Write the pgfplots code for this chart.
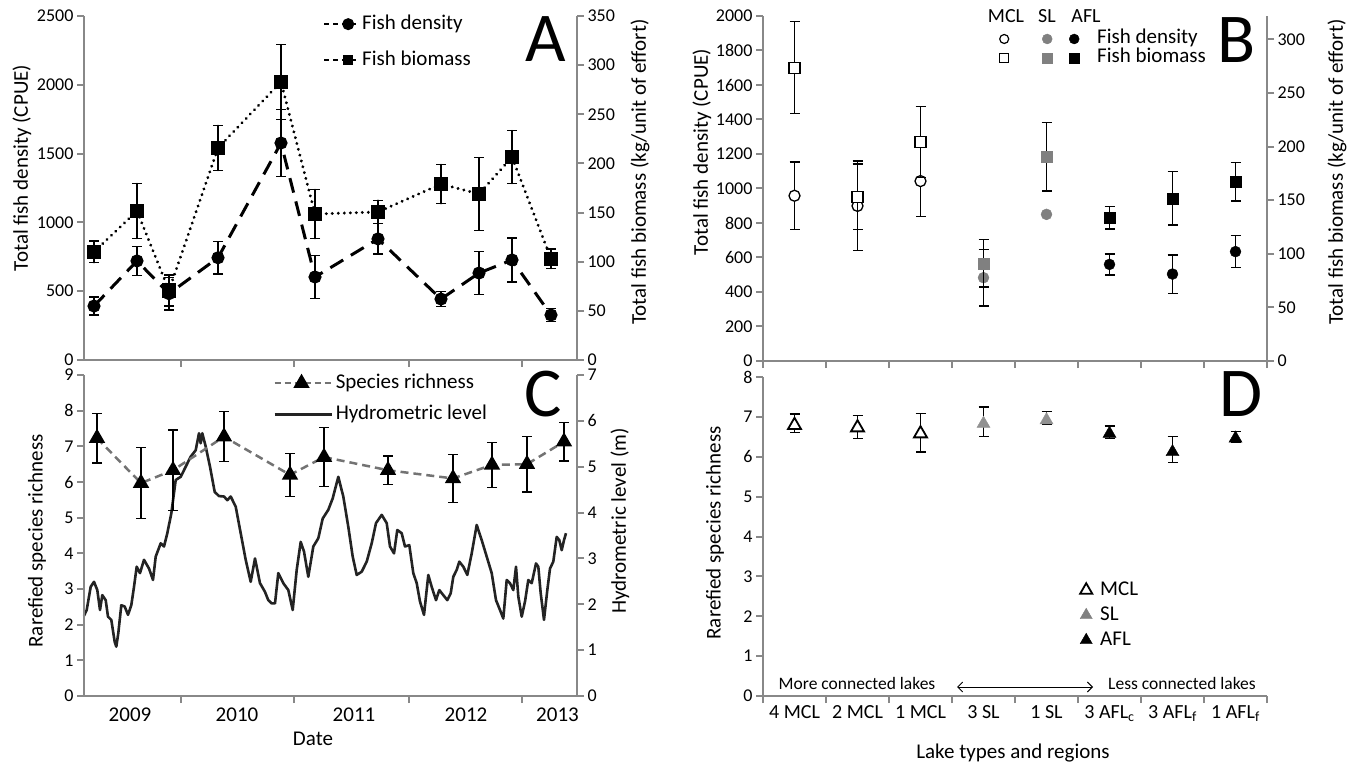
\documentclass[border=0pt]{standalone}
\usepackage{pgfplots}
\pgfplotsset{compat=1.18}
\usepackage{fontspec}
\setmainfont{Carlito}
\usetikzlibrary{arrows.meta}
\definecolor{axgray}{RGB}{136,136,136}
\definecolor{slgray}{RGB}{128,128,128}
\definecolor{dslgray}{RGB}{145,145,145}
\definecolor{srgray}{RGB}{115,115,115}
\definecolor{hydro}{RGB}{35,35,35}
\newcommand{\fs}[1]{\fontsize{#1}{#1}\selectfont}
\pgfplotsset{
  panel/.style={
    scale only axis, clip=false,
    axis line style={-, draw=axgray, line width=2.6pt},
    tick style={draw=axgray, line width=2pt},
    major tick length=7pt,
    tick align=outside,
    /pgf/number format/assume math mode=true,
    /pgf/number format/set thousands separator={},
    tick label style={font=\fs{18}, text=black},
    yticklabel style={inner ysep=0pt},
    legend style={draw=none, fill=none, font=\fs{21}, legend cell align=left, inner sep=0pt,
      nodes={inner xsep=0pt, inner ysep=0pt, text height=14pt, text depth=4pt}},
  },
  eb/.style={error bars/.cd, y dir=both, y explicit,
     error bar style={black, line width=1.3pt, solid},
     error mark options={rotate=90, black, line width=1.3pt, mark size=5pt, solid}},
}
\begin{document}
\begin{tikzpicture}
\path[use as bounding box] (0pt,0pt) rectangle (1348pt,766pt);

% ================= Panel A =================
\begin{axis}[panel, at={(84pt,406pt)}, anchor=south west, width=493pt, height=344pt,
  xmin=0, xmax=493, ymin=0, ymax=2500, ytick={0,500,1000,1500,2000,2500},
  axis x line*=bottom, axis y line*=left,
  xtick={97,210,325,438}, xticklabels={}]
\addplot[black, line width=3pt, dash pattern=on 15pt off 9pt, mark=*, mark size=5pt, mark options={solid}, eb]
 coordinates {(10,392) +- (0,65) (53,720) +- (0,105) (85,482) +- (0,118) (134,743) +- (0,118)
   (197,1577) +- (0,245) (231,603) +- (0,155) (294,880) +- (0,110) (357,443) +- (0,55)
   (395,632) +- (0,157) (428,727) +- (0,160) (467,327) +- (0,45)};
\end{axis}
\begin{axis}[panel, at={(84pt,406pt)}, anchor=south west, width=493pt, height=344pt,
  xmin=0, xmax=493, ymin=0, ymax=350, ytick={0,50,100,150,200,250,300,350},
  axis x line=none, axis y line*=right,
  legend style={at={(0.4848,1.003)}, anchor=north west, row sep=18pt},
  legend image code/.code={\draw[#1, mark repeat=2, mark phase=2] plot coordinates {(0pt,0pt) (24pt,0pt) (34pt,0pt)};}]
\addlegendimage{black, line width=2pt, dash pattern=on 5pt off 4pt, mark=*, mark size=5pt, mark options={solid}}
\addlegendentry{\hspace*{3pt}Fish density}
\addlegendimage{black, line width=2pt, dash pattern=on 5pt off 4pt, mark=square*, mark size=4pt, mark options={solid}}
\addlegendentry{\hspace*{3pt}Fish biomass}
\addplot[forget plot, black, line width=3.2pt, dash pattern=on 0.01pt off 6pt, line cap=round, mark=square*, mark size=5.5pt, mark options={solid}, eb]
 coordinates {(10,110) +- (0,11) (53,151.6) +- (0,28) (85,70.7) +- (0,15.7) (134,215.7) +- (0,23)
   (197,283) +- (0,38) (231,148.5) +- (0,25) (294,150.6) +- (0,12) (357,179) +- (0,20)
   (395,169) +- (0,37) (428,206.5) +- (0,27) (467,103) +- (0,10)};
\end{axis}

% ================= Panel C =================
\begin{axis}[panel, at={(84pt,70pt)}, anchor=south west, width=493pt, height=321pt,
  xmin=0, xmax=493, ymin=0, ymax=7, ytick={0,1,2,3,4,5,6,7},
  axis x line=none, axis y line*=right]
\addplot[hydro, line width=2.6pt, line join=round, mark=none] coordinates {
(0,1.75) (2.7,1.875) (6.7,2.383) (10,2.49) (13.3,2.31) (16,1.875) (18.3,2.20) (21.7,2.09) (24,1.73) (27.3,1.66)
(30.7,1.18) (32.3,1.075) (34.3,1.37) (37.3,1.98) (40.7,1.95) (44,1.77) (47.3,1.98) (50,2.38) (52.7,2.82) (56,2.68)
(60,2.97) (65,2.78) (69,2.53) (71.7,3.04) (76.7,3.33) (80,3.26) (83.3,3.55) (87.3,3.98) (91.7,4.71) (96.7,4.78)
(101.7,5.00) (106.7,5.22) (111.7,5.36) (115,5.73) (116.7,5.51) (118.3,5.73) (121.7,5.44) (126,5.00) (130.7,4.45)
(135,4.36) (140,4.35) (143.3,4.27) (146.7,4.35) (151.7,4.13) (156.7,3.55) (161.7,2.97) (166.7,2.49) (171,3.00)
(176,2.46) (181,2.27) (184.3,2.09) (187.7,2.02) (191,2.02) (194.3,2.68) (199.3,2.46) (204.3,2.31) (208.7,1.875)
(212.7,2.75) (216.7,3.36) (220,3.15) (224.3,2.60) (229.3,3.26) (234.3,3.44) (238.7,3.87) (244.3,4.06) (248.7,4.31)
(254.3,4.78) (259.3,4.35) (264.3,3.69) (268.7,3.04) (272.7,2.64) (277.7,2.71) (282.7,2.93) (287.7,3.33) (292,3.77)
(297.7,3.95) (302.7,3.77) (306,3.26) (310,3.11) (313.3,3.62) (317.7,3.55) (321,3.26) (325.3,3.29) (329.3,2.68)
(332.7,2.46) (336,2.06) (340,1.77) (344.3,2.64) (347.7,2.38) (352,2.09) (355.3,2.31) (359.3,2.20) (363.3,2.09)
(366.7,2.24) (369.3,2.60) (372.7,2.75) (375.3,2.93) (379.3,2.82) (383.3,2.64) (387.7,3.11) (392.7,3.73) (397.7,3.40)
(402.7,3.04) (407.7,2.68) (412,2.09) (416,1.875) (419.3,1.69) (422.7,2.53) (426,2.46) (429.3,2.31) (432,2.82)
(434.3,2.17) (437.7,1.73) (441,2.06) (444.3,2.53) (447.7,2.46) (452,2.89) (454.3,2.82) (456.7,2.24) (460,1.66)
(463.3,2.31) (466,2.78) (469.3,2.93) (472.7,3.47) (475.3,3.40) (477.7,3.18) (480,3.40) (482,3.55)};
\end{axis}
\begin{axis}[panel, at={(84pt,70pt)}, anchor=south west, width=493pt, height=321pt,
  xmin=0, xmax=493, ymin=0, ymax=9, ytick={0,1,2,3,4,5,6,7,8,9},
  axis x line*=bottom, axis y line*=left,
  xtick={97,210,325,438}, xticklabels={},
  extra x ticks={46,153,270,382,473.5}, extra x tick labels={2009,2010,2011,2012,2013},
  extra x tick style={major tick length=0pt, tick style={draw=none}, tick label style={font=\fs{21}, yshift=-8pt}},
  legend style={at={(0.3834,1.003)}, anchor=north west, row sep=13pt},
  legend image code/.code={\draw[#1, mark repeat=2, mark phase=2] plot coordinates {(0pt,0pt) (27pt,0pt) (57pt,0pt)};}]
\addplot[forget plot, srgray, line width=2.5pt, dash pattern=on 8pt off 5pt, mark=triangle*, mark size=7pt, mark options={solid, fill=black, draw=black}, eb]
 coordinates {(13,7.23) +- (0,0.7) (57,5.97) +- (0,1.0) (89,6.33) +- (0,1.13) (140,7.27) +- (0,0.7)
   (206,6.2) +- (0,0.6) (240,6.7) +- (0,0.83) (304,6.33) +- (0,0.4) (369,6.1) +- (0,0.68)
   (408,6.48) +- (0,0.63) (443,6.5) +- (0,0.78) (480,7.13) +- (0,0.54)};
\addlegendimage{srgray, line width=2.5pt, dash pattern=on 6pt off 4pt, mark=triangle*, mark size=7pt, mark options={solid, fill=black, draw=black}}
\addlegendentry{\hspace*{3pt}Species richness}
\addlegendimage{hydro, line width=2.6pt}
\addlegendentry{\hspace*{3pt}Hydrometric level}
\end{axis}

% ================= Panel B =================
\begin{axis}[panel, at={(763pt,405pt)}, anchor=south west, width=504pt, height=345pt,
  xmin=-0.5, xmax=7.5, ymin=0, ymax=2000, ytick={0,200,400,600,800,1000,1200,1400,1600,1800,2000},
  axis x line*=bottom, axis y line*=left,
  xtick={-0.5,0.5,1.5,2.5,3.5,4.5,5.5,6.5,7.5}, xticklabels={}]
\addplot[only marks, mark=*, mark size=5.5pt, mark options={fill=white, draw=black, line width=1.3pt}, eb]
 coordinates {(0,958) +- (0,196) (1,899) +- (0,260) (2,1043) +- (0,205)};
\addplot[only marks, mark=*, mark size=5.5pt, mark options={fill=slgray, draw=slgray}, eb]
 coordinates {(3,483) +- (0,164) (4,850) +- (0,0)};
\addplot[only marks, mark=*, mark size=5.5pt, mark options={fill=black, draw=black}, eb]
 coordinates {(5,560) +- (0,61) (6,504) +- (0,111) (7,634) +- (0,92)};
\end{axis}
\begin{axis}[panel, at={(763pt,405pt)}, anchor=south west, width=504pt, height=345pt,
  xmin=-0.5, xmax=7.5, ymin=0, ymax=321.7, ytick={0,50,100,150,200,250,300},
  axis x line=none, axis y line*=right,
  legend columns=3,
  legend style={at={(0.4663,0.96)}, anchor=north west, row sep=1pt},
  legend image code/.code={\path[draw=none, fill=none] (-6pt,-6pt) rectangle (6pt,6pt); \draw[#1] plot coordinates {(0pt,0pt)};}]
\addplot[forget plot, only marks, mark=square*, mark size=5.5pt, mark options={fill=white, draw=black, line width=1.3pt}, eb]
 coordinates {(0,273.5) +- (0,43) (1,153.2) +- (0,30.6) (2,204) +- (0,33)};
\addplot[forget plot, only marks, mark=square*, mark size=5.5pt, mark options={fill=slgray, draw=slgray}, eb]
 coordinates {(3,91.1) +- (0,22) (4,190.5) +- (0,32)};
\addplot[forget plot, only marks, mark=square*, mark size=5.5pt, mark options={fill=black, draw=black}, eb]
 coordinates {(5,133.6) +- (0,10.5) (6,151.7) +- (0,25) (7,167.2) +- (0,18)};
\addlegendimage{only marks, mark=*, mark size=4.5pt, mark options={fill=white, draw=black, line width=1.2pt}}
\addlegendentry{\hspace*{31pt}}
\addlegendimage{only marks, mark=*, mark size=5pt, mark options={fill=slgray, draw=slgray}}
\addlegendentry{\hspace*{15pt}}
\addlegendimage{only marks, mark=*, mark size=5pt, mark options={fill=black, draw=black}}
\addlegendentry{\hspace*{17pt}Fish density}
\addlegendimage{only marks, mark=square*, mark size=4.5pt, mark options={fill=white, draw=black, line width=1.2pt}}
\addlegendentry{\hspace*{31pt}}
\addlegendimage{only marks, mark=square*, mark size=5pt, mark options={fill=slgray, draw=slgray}}
\addlegendentry{\hspace*{15pt}}
\addlegendimage{only marks, mark=square*, mark size=5pt, mark options={fill=black, draw=black}}
\addlegendentry{\hspace*{17pt}Fish biomass}
\end{axis}

% ================= Panel D =================
\begin{axis}[panel, at={(763pt,70pt)}, anchor=south west, width=504pt, height=319pt,
  xmin=-0.5, xmax=7.5, ymin=0, ymax=8, ytick={0,1,2,3,4,5,6,7,8},
  axis x line*=bottom, axis y line*=left,
  xtick={-0.5,0.5,1.5,2.5,3.5,4.5,5.5,6.5,7.5}, xticklabels={},
  extra x ticks={0,1,2,3,4,5,6,7},
  extra x tick labels={4 MCL,2 MCL,1 MCL,3 SL,1 SL,3 AFL\textsubscript{c},3 AFL\textsubscript{f},1 AFL\textsubscript{f}},
  extra x tick style={major tick length=0pt, tick style={draw=none}, tick label style={font=\fs{20}, yshift=-6pt}},
  legend style={at={(0.627,0.3605)}, anchor=north west, row sep=7pt},
  legend image code/.code={\path[draw=none, fill=none] (-7pt,-6pt) rectangle (7pt,6pt); \draw[#1] plot coordinates {(0pt,0pt)};}]
\addplot[forget plot, only marks, mark=triangle*, mark size=7.5pt, mark options={fill=white, draw=black, line width=1.8pt}, eb]
 coordinates {(0,6.79) += (0,0.28) -= (0,0.19) (1,6.73) += (0,0.30) -= (0,0.27) (2,6.58) += (0,0.50) -= (0,0.46)};
\addplot[forget plot, only marks, mark=triangle*, mark size=7.5pt, mark options={fill=dslgray, draw=dslgray}, eb]
 coordinates {(3,6.83) += (0,0.42) -= (0,0.33) (4,6.92) += (0,0.21) -= (0,0.1)};
\addplot[forget plot, only marks, mark=triangle*, mark size=7.5pt, mark options={fill=black, draw=black}, eb]
 coordinates {(5,6.58) += (0,0.19) -= (0,0.13) (6,6.12) += (0,0.38) -= (0,0.27) (7,6.46) += (0,0.18) -= (0,0.1)};
\addlegendimage{only marks, mark=triangle*, mark size=7pt, mark options={fill=white, draw=black, line width=1.8pt}}
\addlegendentry{\hspace*{7pt}MCL}
\addlegendimage{only marks, mark=triangle*, mark size=7pt, mark options={fill=slgray, draw=slgray}}
\addlegendentry{\hspace*{7pt}SL}
\addlegendimage{only marks, mark=triangle*, mark size=7pt, mark options={fill=black, draw=black}}
\addlegendentry{\hspace*{7pt}AFL}
\end{axis}

% ================= Labels and annotations =================
\node[rotate=90, font=\fs{21}] at (22pt,598pt) {Total fish density (CPUE)};
\node[rotate=90, font=\fs{21}] at (640pt,594pt) {Total fish biomass (kg/unit of effort)};
\node[rotate=90, font=\fs{21}] at (37pt,225pt) {Rarefied species richness};
\node[rotate=90, font=\fs{21}] at (620pt,245pt) {Hydrometric level (m)};
\node[font=\fs{21}] at (313pt,27pt) {Date};
\node[rotate=90, font=\fs{21}] at (702pt,614pt) {Total fish density (CPUE)};
\node[rotate=90, font=\fs{21}] at (1337pt,594pt) {Total fish biomass (kg/unit of effort)};
\node[rotate=90, font=\fs{21}] at (715pt,233pt) {Rarefied species richness};
\node[font=\fs{21}] at (1013pt,13pt) {Lake types and regions};
\node[font=\fs{20}] at (1006pt,750pt) {MCL};
\node[font=\fs{20}] at (1047pt,750pt) {SL};
\node[font=\fs{20}] at (1086pt,750pt) {AFL};
\node[font=\fs{17.5}] at (857pt,83pt) {More connected lakes};
\node[font=\fs{17.5}] at (1182pt,83pt) {Less connected lakes};
\draw[{Straight Barb[length=5pt,width=10pt]}-{Straight Barb[length=5pt,width=10pt]}, line width=0.9pt] (957pt,79pt) -- (1093pt,79pt);
\node[font=\fs{70}, anchor=base, inner sep=0pt] at (546pt,704pt) {A};
\node[font=\fs{70}, anchor=base, inner sep=0pt] at (1237pt,703pt) {B};
\node[font=\fs{70}, anchor=base, inner sep=0pt] at (543pt,349pt) {C};
\node[font=\fs{70}, anchor=base, inner sep=0pt] at (1241pt,349pt) {D};
\end{tikzpicture}
\end{document}
